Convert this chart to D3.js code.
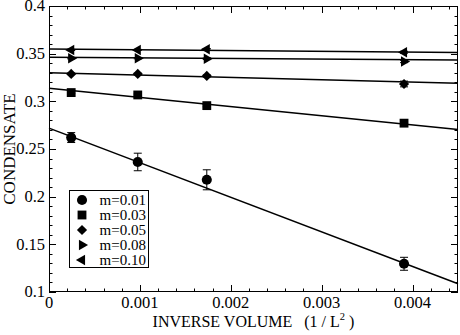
<!DOCTYPE html>
<html>
<head>
<meta charset="utf-8">
<script src="https://cdn.jsdelivr.net/npm/d3@7"></script>
<style>
	body { margin: 0; background: #fff; }
	svg { display: block; }
	text { font-family: 'Liberation Serif', 'Times New Roman', serif; fill: #000; }
</style>
</head>
<body>
<svg width="460" height="335"></svg>
<script>
// inverse volume 1/L^2 for L = 64, 32, 24, 16
const invVolume = [1 / 4096, 1 / 1024, 1 / 576, 1 / 256];

const masses = ['m=0.01', 'm=0.03', 'm=0.05', 'm=0.08', 'm=0.10'];

const condensate = [
	[0.2620, 0.2364, 0.2177, 0.1296],
	[0.3092, 0.3067, 0.2955, 0.2771],
	[0.3288, 0.3288, 0.3267, 0.3182],
	[0.3452, 0.3452, 0.3446, 0.3418],
	[0.3539, 0.3539, 0.3546, 0.3515],
];

const errors = [
	[0.0052, 0.0092, 0.0105, 0.0068],
	[0.0010, 0.0010, 0.0012, 0.0012],
	[0.0008, 0.0008, 0.0010, 0.0030],
	[0.0006, 0.0006, 0.0008, 0.0012],
	[0.0006, 0.0006, 0.0008, 0.0010],
];

// linear fits, value at x = 0 and at x = 0.0045
const fitStart = [0.2719, 0.3138, 0.3301, 0.3462, 0.3550];
const fitEnd = [0.1087, 0.2705, 0.3190, 0.3434, 0.3513];

const xTicks = [0, 0.001, 0.002, 0.003, 0.004];
const yTicks = [0.1, 0.15, 0.2, 0.25, 0.3, 0.35, 0.4];

const svg = d3.select('svg');
const margin = { left: 49, right: 2, top: 6, bottom: 43 };
const width = +svg.attr('width');
const height = +svg.attr('height');

const x = d3.scaleLinear()
	.domain([0, 0.0045])
	.range([margin.left, width - margin.right]);

const y = d3.scaleLinear()
	.domain([0.1, 0.4])
	.range([height - margin.bottom, margin.top]);

const x0 = x.range()[0], x1 = x.range()[1];
const y0 = y.range()[0], y1 = y.range()[1];

// ticks (inward, on all four sides)
const xMinor = d3.range(0, 0.00451, 0.0002);
const yMinor = d3.range(0.1, 0.4001, 0.01);
const ticks = svg.append('g')
	.attr('stroke', '#000')
	.attr('stroke-width', 1);

xMinor.forEach(v => {
	const major = xTicks.some(t => Math.abs(t - v) < 1e-9);
	const len = major ? 7 : 3.5;
	const px = Math.round(x(v)) + 0.5;
	ticks.append('line').attr('x1', px).attr('x2', px).attr('y1', y0).attr('y2', y0 - len);
	ticks.append('line').attr('x1', px).attr('x2', px).attr('y1', y1).attr('y2', y1 + len);
});

yMinor.forEach(v => {
	const major = yTicks.some(t => Math.abs(t - v) < 1e-9);
	const len = major ? 7 : 3.5;
	const py = Math.round(y(v)) + 0.5;
	ticks.append('line').attr('x1', x0).attr('x2', x0 + len).attr('y1', py).attr('y2', py);
	ticks.append('line').attr('x1', x1).attr('x2', x1 - len).attr('y1', py).attr('y2', py);
});

// fit lines
const lines = svg.append('g')
	.selectAll('line')
	.data(masses)
	.enter()
	.append('line')
	.attr('x1', x(0))
	.attr('x2', x(0.0045))
	.attr('y1', (d, i) => y(fitStart[i]))
	.attr('y2', (d, i) => y(fitEnd[i]))
	.attr('stroke', '#000')
	.attr('stroke-width', 1.5);

// symbols
const symbols = [
	{ type: d3.symbolCircle, size: 80, rotate: 0 },
	{ type: d3.symbolSquare, size: 78, rotate: 0 },
	{ type: d3.symbolSquare, size: 52, rotate: 45 },
	{ type: d3.symbolTriangle, size: 48, rotate: 90 },
	{ type: d3.symbolTriangle, size: 48, rotate: -90 },
];

const points = masses.map((m, i) => invVolume.map((v, j) => ({
	series: i,
	x: v,
	y: condensate[i][j],
	err: errors[i][j],
}))).flat();

const errBars = svg.append('g')
	.attr('stroke', '#000')
	.attr('stroke-width', 1)
	.selectAll('g')
	.data(points)
	.enter()
	.append('g');

errBars.append('line')
	.attr('x1', d => x(d.x))
	.attr('x2', d => x(d.x))
	.attr('y1', d => y(d.y - d.err))
	.attr('y2', d => y(d.y + d.err));
errBars.append('line')
	.attr('x1', d => x(d.x) - 4)
	.attr('x2', d => x(d.x) + 4)
	.attr('y1', d => y(d.y + d.err))
	.attr('y2', d => y(d.y + d.err));
errBars.append('line')
	.attr('x1', d => x(d.x) - 4)
	.attr('x2', d => x(d.x) + 4)
	.attr('y1', d => y(d.y - d.err))
	.attr('y2', d => y(d.y - d.err));

const symbolPath = s => d3.symbol().type(s.type).size(s.size)();

svg.append('g')
	.selectAll('path')
	.data(points)
	.enter()
	.append('path')
	.attr('d', d => symbolPath(symbols[d.series]))
	.attr('transform', d => `translate(${x(d.x)},${y(d.y)}) rotate(${symbols[d.series].rotate})`)
	.attr('fill', '#000');

// frame
svg.append('rect')
	.attr('x', x0 + 0.5)
	.attr('y', y1 + 0.5)
	.attr('width', x1 - x0 - 1)
	.attr('height', y0 - y1 - 1)
	.attr('fill', 'none')
	.attr('stroke', '#000')
	.attr('stroke-width', 1);

// tick labels
svg.append('g')
	.selectAll('text')
	.data(xTicks)
	.enter()
	.append('text')
	.attr('x', d => x(d))
	.attr('y', y0 + 16)
	.attr('text-anchor', 'middle')
	.attr('font-size', 16.5)
	.text(d => d === 0 ? '0' : d3.format('.3f')(d));

svg.append('g')
	.selectAll('text')
	.data(yTicks)
	.enter()
	.append('text')
	.attr('x', x0 - 4)
	.attr('y', d => y(d))
	.attr('dy', d => d === 0.4 ? '0.28em' : '0.33em')
	.attr('text-anchor', 'end')
	.attr('font-size', 16.5)
	.text(d => d3.format('.2~f')(d));

// axis titles
const xTitle = svg.append('text')
	.attr('x', (x0 + x1) / 2)
	.attr('y', height - 8)
	.attr('text-anchor', 'middle')
	.attr('font-size', 16)
	.attr('xml:space', 'preserve');
xTitle.append('tspan').text('INVERSE VOLUME   (1 / L');
xTitle.append('tspan').attr('dy', -7).attr('font-size', 10.5).text('2');
xTitle.append('tspan').attr('dy', 7).text(' )');

svg.append('text')
	.attr('transform', `translate(15,${(y0 + y1) / 2}) rotate(-90)`)
	.attr('text-anchor', 'middle')
	.attr('font-size', 17)
	.text('CONDENSATE');

// legend
const legend = svg.append('g')
	.attr('transform', 'translate(69.5,190.5)');

legend.append('rect')
	.attr('width', 79)
	.attr('height', 77)
	.attr('fill', '#fff')
	.attr('stroke', '#000')
	.attr('stroke-width', 1);

const items = legend.selectAll('g')
	.data(masses)
	.enter()
	.append('g')
	.attr('transform', (d, i) => `translate(0,${9.5 + i * 15})`);

items.append('path')
	.attr('d', (d, i) => symbolPath(symbols[i]))
	.attr('transform', (d, i) => `translate(12.5,0) rotate(${symbols[i].rotate})`)
	.attr('fill', '#000');

items.append('text')
	.attr('x', 30)
	.attr('dy', '0.33em')
	.attr('font-size', 15)
	.text(d => d);
</script>
</body>
</html>
